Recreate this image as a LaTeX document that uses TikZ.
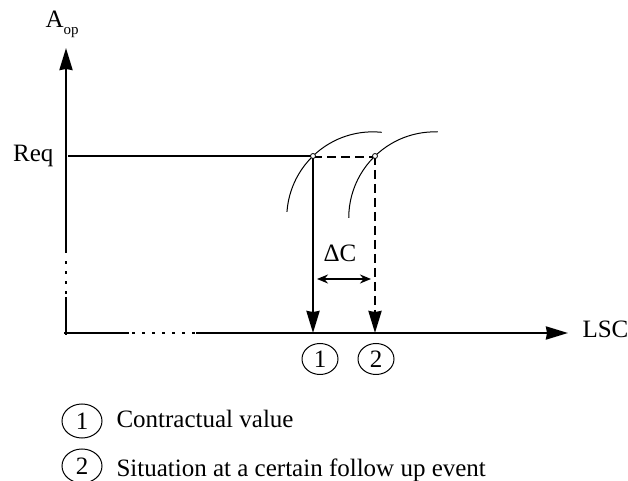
\documentclass[tikz,border=0pt]{standalone}
\usepackage{fontspec}
\setmainfont{Liberation Serif}
\usetikzlibrary{arrows.meta,shapes.geometric}
\begin{document}
\begin{tikzpicture}[
    x=1pt,y=1pt,
    >={Stealth[length=22pt,width=13pt,inset=1pt]},
    font=\fontsize{25}{30}\selectfont,
    axis/.style={
        line width=2.4pt
    },
    dotline/.style={
        line width=2.6pt,
        dash pattern=on 3pt off 7pt
    },
    projection/.style={
        ->,
        line width=2.4pt
    },
    curve/.style={line width=1pt},
    knot/.style={circle,draw,fill=white,line width=0.8pt,minimum size=5pt,inner sep=0pt},
    numbered/.style={ellipse,draw,line width=1pt,minimum width=36pt,minimum height=31pt,inner sep=0pt},
    keybox/.style={numbered,minimum width=40pt,minimum height=34pt}
    ]

  \useasboundingbox (0,0) rectangle (628,481);

  % axes, each with a dotted break
  \coordinate (ybot) at (66,146);
  \coordinate (ycut1) at (66,184);
  \coordinate (ydot1) at (66,187);
  \coordinate (ydot2) at (66,221);
  \coordinate (ycut2) at (66,228);
  \coordinate (ytop) at (66,433);
  \draw[axis] (ybot) -- (ycut1);
  \draw[dotline] (ydot1) -- (ydot2);
  \draw[axis,->] (ycut2) -- (ytop);

  \coordinate (xbeg) at (64,148);
  \coordinate (xcut1) at (129,148);
  \coordinate (xdot1) at (132,148);
  \coordinate (xdot2) at (195,148);
  \coordinate (xcut2) at (196,148);
  \coordinate (xend) at (568,148);
  \draw[axis] (xbeg) -- (xcut1);
  \draw[dotline] (xdot1) -- (xdot2);
  \draw[axis,->] (xcut2) -- (xend);

  \node[anchor=base west] (aop) at (42,453) {A\raisebox{-7pt}{\fontsize{15}{15}\selectfont op}};
  \node[anchor=base west] (lsc) at (579,143) {LSC};
  \node[anchor=base east] (req) at (57,319) {Req};

  % requirement level and the two curves
  \coordinate (reqstart) at (68,325);
  \coordinate (f1) at (313,148);
  \coordinate (f2) at (375,148);
  \draw[curve] (313,325) ++(-46:86) ++(176:86) arc[start angle=176,end angle=84,radius=86];
  \draw[curve] (375,325) ++(-46:86) ++(180:86) arc[start angle=180,end angle=88,radius=86];
  \draw[axis] (reqstart) -- (313,325);
  \draw[axis,dash pattern=on 9pt off 5pt] (313,324) -- (375,324);
  \draw[projection] (313,325) -- (f1);
  \draw[projection,dash pattern=on 9pt off 5pt] (375,325) -- (f2);
  \node[knot] (c1) at (313,325) {};
  \node[knot] (c2) at (375,325) {};

  % shift between the two values
  \coordinate (dl) at (317,202);
  \coordinate (dr) at (371,202);
  \draw[line width=1.8pt,{Stealth[length=11pt,width=9pt]}-{Stealth[length=11pt,width=9pt]}] (dl) -- (dr);
  \node[anchor=base] (dc) at (340,219) {ΔC};

  \node[numbered] (n1) at (320,122) {1};
  \node[numbered] (n2) at (376,122) {2};

  % legend
  \node[keybox] (k1) at (82,60) {1\hspace{9pt}};
  \node[anchor=base west] (t1) at (113,53) {Contractual value};
  \node[keybox] (k2) at (82,15) {2\hspace{9pt}};
  \node[anchor=base west] (t2) at (113,4) {Situation at a certain follow up event};
\end{tikzpicture}
\end{document}
